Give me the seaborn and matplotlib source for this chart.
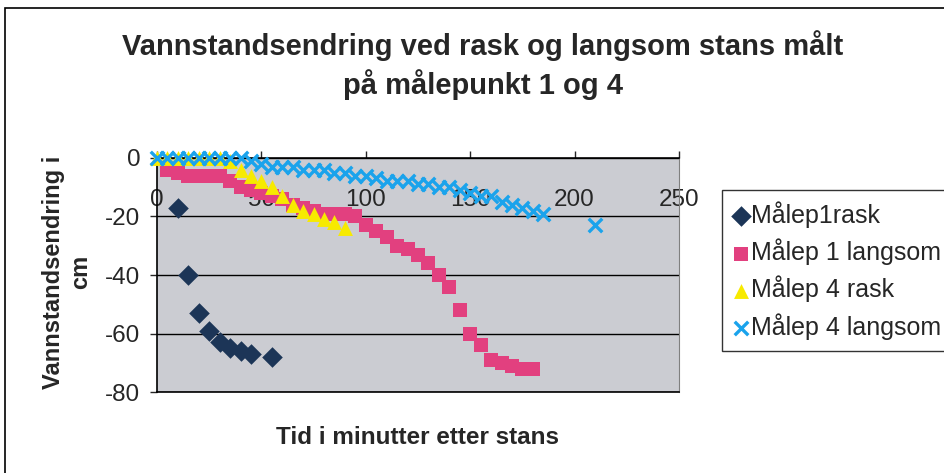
import matplotlib
matplotlib.use("Agg")
import matplotlib.pyplot as plt
import matplotlib.patches as mpatches
import seaborn as sns
import pandas as pd

# %%
# data (minutes after stop, change in water level in cm)
tid_m1_rask = [10, 15, 20, 25, 30, 35, 40, 45, 55]
m1_rask = [-17, -40, -53, -59, -63, -65, -66, -67, -68]

tid_m1_langsom = [5, 10, 15, 20, 25, 30, 35, 40, 45, 50, 55, 60, 65, 70, 75, 80, 85, 90,
                  95, 100, 105, 110, 115, 120, 125, 130, 135, 140, 145, 150, 155, 160,
                  165, 170, 175, 180]
m1_langsom = [-4, -5, -6, -6, -6, -6, -8, -10, -11, -12, -13, -14, -16, -17, -18, -19, -19, -19,
              -20, -23, -25, -27, -30, -31, -33, -36, -40, -44, -52, -60, -64, -69,
              -70, -71, -72, -72]

tid_m4_rask = [0, 5, 10, 15, 20, 25, 30, 35, 40, 45, 50, 55, 60, 65, 70, 75, 80, 85, 90]
m4_rask = [0, 0, 0, 0, 0, 0, 0, -1, -4, -6, -8, -10, -13, -16, -18, -19, -21, -22, -24]

tid_m4_langsom = [0, 5, 10, 15, 20, 25, 30, 35, 40, 45, 50, 55, 60, 65, 70, 75, 80, 85, 90,
                  95, 100, 105, 110, 115, 120, 125, 130, 135, 140, 145, 150, 155, 160,
                  165, 170, 175, 180, 185, 210]
m4_langsom = [0, 0, 0, 0, 0, 0, 0, 0, 0, -1, -2, -3, -3, -3, -4, -4, -4, -5, -5,
              -6, -6, -7, -8, -8, -8, -9, -9, -10, -10, -11, -12, -13, -13,
              -15, -16, -17, -18, -19, -23]

serier = [
    ("Målep1rask", tid_m1_rask, m1_rask, "D", "#1c3557", 110),
    ("Målep 1 langsom", tid_m1_langsom, m1_langsom, "s", "#e2407f", 100),
    ("Målep 4 rask", tid_m4_rask, m4_rask, "^", "#f7ea00", 115),
    ("Målep 4 langsom", tid_m4_langsom, m4_langsom, "x", "#1aa3ec", 95),
]

# %%
sns.set_style("white")
plt.rcParams['font.family'] = ['Liberation Sans', 'DejaVu Sans']
plt.rcParams['axes.unicode_minus'] = False

fig = plt.figure(figsize=(9.44, 4.73), dpi=100)
ax = fig.add_axes([157 / 944, 1 - 392 / 473, 522 / 944, 234 / 473])
ax.set_facecolor("#cbccd2")

for navn, tid, verdi, mk, farge, s in serier:
    df = pd.DataFrame({"tid": tid, "verdi": verdi})
    if mk == "x":
        sns.scatterplot(data=df, x="tid", y="verdi", ax=ax, marker=mk, color=farge,
                        s=s, linewidth=2.4, label=navn, clip_on=False, zorder=3)
    else:
        sns.scatterplot(data=df, x="tid", y="verdi", ax=ax, marker=mk, color=farge,
                        s=s, edgecolor=farge, linewidth=0, label=navn, clip_on=False,
                        zorder=3)

ax.set_xlim(0, 250)
ax.set_ylim(-80, 0)
ax.set_xticks([0, 50, 100, 150, 200, 250])
ax.set_yticks([0, -20, -40, -60, -80])
ax.yaxis.grid(True, color="black", linewidth=1)
ax.xaxis.grid(False)
ax.set_axisbelow(True)

for side in ["left", "top", "bottom"]:
    ax.spines[side].set_color("black")
    ax.spines[side].set_linewidth(1.2)
ax.spines["right"].set_color("#808080")

ax.tick_params(axis="x", bottom=False, top=True, labelbottom=False, labeltop=True,
               direction="out", length=5, width=1, pad=-43, labelsize=17.5)
ax.tick_params(axis="y", left=True, direction="out", length=5, width=1, labelsize=17.5,
               pad=7)

ax.set_xlabel("")
ax.set_ylabel("")
fig.text(418 / 944, 1 - 437 / 473, "Tid i minutter etter stans", ha="center", va="center",
         fontsize=17.5, fontweight="bold")
fig.text(67 / 944, 1 - 272 / 473, "Vannstandsendring i\ncm", ha="center", va="center",
         rotation=90, fontsize=17, fontweight="bold", multialignment="center")

fig.text(483 / 944, 1 - 65 / 473, "Vannstandsendring ved rask og langsom stans målt\npå målepunkt 1 og 4",
         ha="center", va="center", fontsize=21, fontweight="bold", linespacing=1.35)

ax.legend_.remove()
h, l = ax.get_legend_handles_labels()
leg = fig.legend(h, l, loc="upper left", bbox_to_anchor=(722 / 944, 1 - 190 / 473),
                 frameon=True, fancybox=False, edgecolor="black", fontsize=18,
                 handletextpad=0.1, handlelength=0.6, borderpad=0.45, labelspacing=0.42,
                 borderaxespad=0)
leg.get_frame().set_linewidth(1)

# ramme rundt hele diagrammet
fig.patches.append(mpatches.Rectangle((5 / 944, -0.05), 1.1, 1 - 8 / 473 + 0.05,
                                      transform=fig.transFigure, fill=False,
                                      edgecolor="black", linewidth=1.2))

fig.savefig("out.png", dpi=100)
